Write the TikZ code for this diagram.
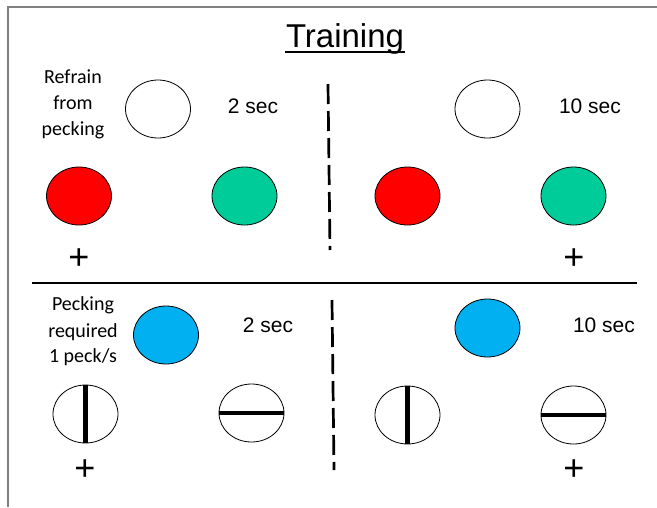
\documentclass[tikz,border=0pt]{standalone}
\usepackage{fontspec}
\usetikzlibrary{shapes.geometric}
\newfontfamily\arialf{Liberation Sans}
\newfontfamily\calf{Carlito}
\definecolor{kred}{HTML}{FF0000}
\definecolor{kgreen}{HTML}{00CC99}
\definecolor{kblue}{HTML}{00B0F0}
\definecolor{frame}{HTML}{808080}
\begin{document}
\begin{tikzpicture}[x=1pt,y=-1pt,
  key/.style={shape=ellipse,draw=black,line width=0.8pt,minimum width=65pt,minimum height=58pt,inner sep=0pt},
  bar/.style={line width=4.5pt},
  sec/.style={font=\arialf\fontsize{21}{25}\selectfont,anchor=base,inner sep=0pt},
  lab/.style={font=\calf\fontsize{20}{24}\selectfont,anchor=base,inner sep=0pt},
  plus/.style={font=\arialf\fontsize{36}{40}\selectfont,anchor=base,inner sep=0pt},
  sep/.style={line width=2.7pt,dash pattern=on 20pt off 7pt}]
\useasboundingbox (0,0) rectangle (657,507);
% frame
\coordinate (f1) at (657,7);
\coordinate (f2) at (8,7);
\coordinate (f3) at (8,507);
\draw[frame,line width=1.2pt] (f1) -- (f2) -- (f3);
% title
\node[font=\arialf\fontsize{33}{38}\selectfont,anchor=base,inner sep=0pt] (title) at (345,47) {Training};
\coordinate (u1) at (285,52);
\coordinate (u2) at (405,52);
\draw[line width=1.6pt] (u1) -- (u2);
% top-left
\node[lab] (r1) at (73,83) {Refrain};
\node[lab] (r2) at (73,109) {from};
\node[lab] (r3) at (73,135) {pecking};
\node[key,fill=white] (w1) at (158,109) {};
\node[sec] (s1) at (253,113) {2 sec};
\node[key,fill=kred] (red1) at (79,196) {};
\node[key,fill=kgreen] (grn1) at (244.5,196) {};
\node[plus] (p1) at (79,269.5) {+};
% top-right
\node[key,fill=white] (w2) at (487.5,109) {};
\node[sec] (s2) at (590,113) {10 sec};
\node[key,fill=kred] (red2) at (407.5,196) {};
\node[key,fill=kgreen] (grn2) at (573.5,196) {};
\node[plus] (p2) at (574,269.5) {+};
% dashed separators
\coordinate (d1) at (328,84);
\coordinate (d2) at (330,250);
\draw[sep] (d1) -- (d2);
\coordinate (d3) at (332,300);
\coordinate (d4) at (334,470);
\draw[sep] (d3) -- (d4);
% horizontal separator
\coordinate (h1) at (32,283);
\coordinate (h2) at (637,283);
\draw[line width=2.4pt] (h1) -- (h2);
% bottom-left
\node[lab] (q1) at (83,310) {Pecking};
\node[lab] (q2) at (83,337) {required};
\node[lab] (q3) at (83,362) {1 peck/s};
\node[key,fill=kblue] (b1) at (166,335) {};
\node[sec] (s3) at (268,332) {2 sec};
\node[key,fill=white] (v1) at (85.5,414) {};
\draw[bar] (v1.north) -- (v1.south);
\node[key,fill=white] (hz1) at (251.5,413) {};
\draw[bar] (hz1.west) -- (hz1.east);
\node[plus] (p3) at (85,480.5) {+};
% bottom-right
\node[key,fill=kblue] (b2) at (487.5,328) {};
\node[sec] (s4) at (604,332) {10 sec};
\node[key,fill=white] (v2) at (407.5,415) {};
\draw[bar] (v2.north) -- (v2.south);
\node[key,fill=white] (hz2) at (573.5,415) {};
\draw[bar] (hz2.west) -- (hz2.east);
\node[plus] (p4) at (574,480.5) {+};
\end{tikzpicture}
\end{document}
